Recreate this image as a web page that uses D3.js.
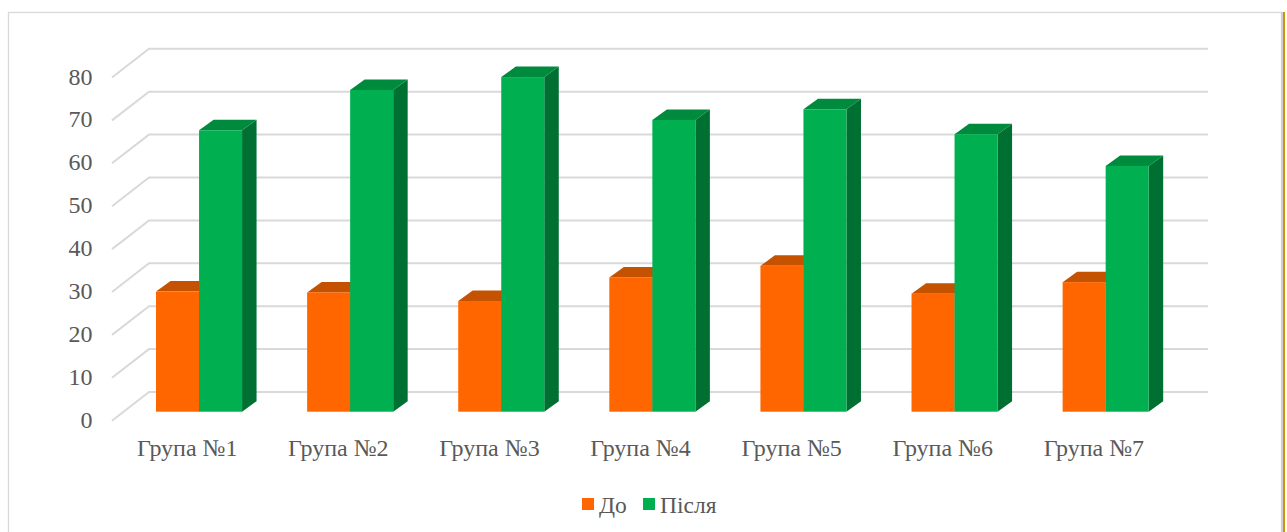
<!DOCTYPE html>
<html>
<head>
<meta charset="utf-8">
<script src="https://cdn.jsdelivr.net/npm/d3@7"></script>
<style>
    html, body { margin: 0; padding: 0; background: #fff; overflow: hidden; }
    svg { display: block; }
    text { font-family: "Liberation Serif", serif; fill: #595959; }
</style>
</head>
<body>
<svg id="chart" width="1287" height="532"></svg>
<script>
const groups = ["Група №1", "Група №2", "Група №3", "Група №4", "Група №5", "Група №6", "Група №7"];
const before = [28, 27.8, 25.8, 31.3, 34, 27.5, 30.2];
const after = [65.6, 75, 78, 68, 70.5, 64.7, 57.3];
const yTicks = [0, 10, 20, 30, 40, 50, 60, 70, 80];
const seriesNames = ["До", "Після"];

const svg = d3.select("#chart");

// y scale is for the plane the bars stand on, the floor goes up and back from there
const y = d3.scaleLinear().domain([0, 80]).range([411.7, 68.5]);
const x = d3.scaleBand().domain(groups).range([123.5, 1181.2]).paddingInner(0.4305).paddingOuter(0.2152);
const depthX = 14.5, depthY = 10.5;   // bar depth
const gridFront = {x: -18, y: 9};     // from bar plane to front of the floor
const gridBack = {x: 19, y: -19.7};   // from bar plane to the back wall
const gridLeft = 130, gridRight = 1208;

// frame
svg.append("rect").attr("x", 8.5).attr("y", 12.5).attr("width", 1273).attr("height", 530)
    .attr("fill", "none").attr("stroke", "#d9d9d9").attr("stroke-width", 1.3);
svg.append("rect").attr("x", 1281).attr("y", 12).attr("width", 2).attr("height", 520).attr("fill", "#cfcfcf");
svg.append("rect").attr("x", 1283).attr("y", 12).attr("width", 2).attr("height", 520).attr("fill", "#c49a0a");

// grid lines
svg.append("g").selectAll("path")
    .data(yTicks)
    .enter().append("path")
    .attr("fill", "none")
    .attr("stroke", "#d9d9d9")
    .attr("stroke-width", 2)
    .attr("d", d => d3.line()([
        [gridLeft + gridFront.x, y(d) + gridFront.y],
        [gridLeft + gridBack.x, y(d) + gridBack.y],
        [gridRight, y(d) + gridBack.y]
    ]));

// y labels
svg.append("g").selectAll("text")
    .data(yTicks)
    .enter().append("text")
    .attr("x", 92.5)
    .attr("y", d => y(d) + gridFront.y + 7)
    .attr("text-anchor", "end")
    .attr("font-size", 24)
    .text(d => d);

function drawBars(values, colors, offset) {
    const w = x.bandwidth() / 2;
    const g = svg.append("g");
    groups.forEach((name, i) => {
        const x0 = x(name) + offset * w, x1 = x0 + w;
        const top = y(values[i]), bottom = y(0);
        // side
        g.append("polygon").attr("fill", colors.side)
            .attr("points", [[x1, top], [x1 + depthX, top - depthY], [x1 + depthX, bottom - depthY], [x1, bottom]].join(" "));
        // top
        g.append("polygon").attr("fill", colors.top)
            .attr("points", [[x0, top], [x0 + depthX, top - depthY], [x1 + depthX, top - depthY], [x1, top]].join(" "));
        // front
        g.append("rect").attr("x", x0).attr("y", top).attr("width", w).attr("height", bottom - top).attr("fill", colors.front);
    });
}

drawBars(before, {front: "#ff6600", top: "#c55200", side: "#b84c00"}, 0);
drawBars(after, {front: "#00b050", top: "#008a3e", side: "#006f32"}, 1);

// category labels
svg.append("g").selectAll("text")
    .data(groups)
    .enter().append("text")
    .attr("x", d => x(d) + x.bandwidth() / 2 - 11.8)
    .attr("y", 456)
    .attr("text-anchor", "middle")
    .attr("font-size", 24)
    .text(d => d);

// legend
const legendX = [582, 643];
const legendColors = ["#ff6600", "#00b050"];
seriesNames.forEach((name, i) => {
    svg.append("rect").attr("x", legendX[i]).attr("y", 498).attr("width", 12).attr("height", 12).attr("fill", legendColors[i]);
    svg.append("text").attr("x", legendX[i] + 17).attr("y", 513).attr("font-size", 23.5).text(name);
});
</script>
</body>
</html>
